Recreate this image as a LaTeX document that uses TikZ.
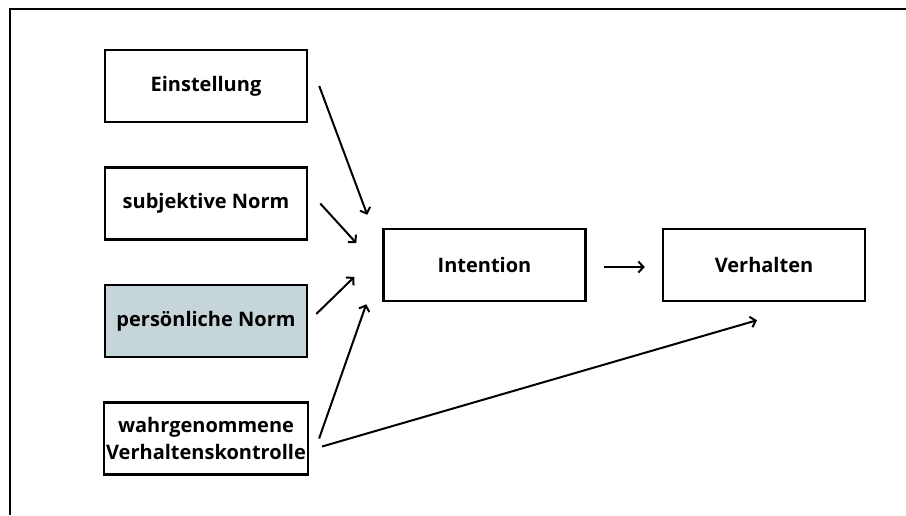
\documentclass[tikz,border=0pt]{standalone}
\usepackage{fontspec}
\setmainfont{Open Sans}
\usetikzlibrary{positioning, calc, arrows.meta}
\definecolor{graublau}{RGB}{197,213,217}
\tikzset{
    %Define standard arrow tip
    >={Straight Barb[length=5pt,width=11pt]},
    %Define style for boxes
    kasten/.style={
           rectangle,
           draw=black, line width=2.5pt,
           minimum width=202pt,
           minimum height=72pt,
           inner sep=2pt,
           align=center,
           font=\bfseries\fontsize{20}{26.5}\selectfont},
    % Define arrow style
    pfeil/.style={
           ->,
           line width=2pt}
}
\begin{document}
\begin{tikzpicture}[node distance=43pt, x=1pt, y=1pt]
	\useasboundingbox (0,0) rectangle (906,515);
	% Rahmen
	\draw[line width=2pt] (9.5,0) -- (9.5,505.5) -- (906,505.5);
	%
	% Knoten
	%
	\node[kasten] (einst) at (206,429) {Einstellung};
	\node[kasten, below = of einst] (subj) {subjektive Norm};
	\node[kasten, fill=graublau, below = of subj] (pers) {persönliche Norm};
	\node[kasten, below = of pers] (wahr) {wahrgenommene\\Verhaltenskontrolle};
	\node[kasten] (intent) at (484.5,250) {Intention};
	\node[kasten, right = 75pt of intent] (verh) {Verhalten};
	%
	% Pfeile
	%
	\draw[pfeil] ([xshift=11pt]einst.east) -- ([shift={(-15pt,13pt)}]intent.north west);
	\draw[pfeil] ([xshift=12pt]subj.east) -- ([shift={(-26pt,22pt)}]intent.west);
	\draw[pfeil] ([shift={(8pt,7pt)}]pers.east) -- ([shift={(-28pt,-12pt)}]intent.west);
	\draw[pfeil] ([xshift=10pt]wahr.east) -- ([shift={(-16pt,-2pt)}]intent.south west);
	\draw[pfeil] ([shift={(13pt,-8pt)}]wahr.east) -- ([shift={(-7pt,-18pt)}]verh.south);
	\draw[pfeil, shorten <=17pt, shorten >=17pt] ([yshift=-2pt]intent.east) -- ([yshift=-2pt]verh.west);
\end{tikzpicture}
\end{document}
